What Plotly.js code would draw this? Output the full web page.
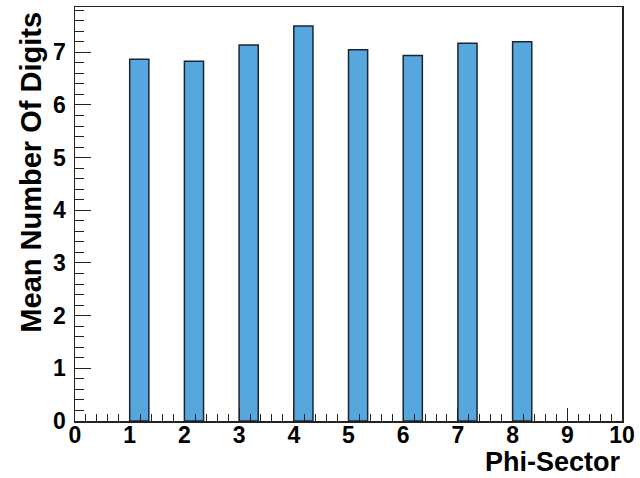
<!DOCTYPE html>
<html>
<head>
<meta charset="utf-8">
<script src="https://cdn.plot.ly/plotly-3.0.1.min.js"></script>
<style>html,body{margin:0;padding:0;background:#fff;}#chart{width:640px;height:478px;}</style>
</head>
<body>
<div id="chart"></div>
<script>
const sectors = [1, 2, 3, 4, 5, 6, 7, 8];
const meanDigits = [6.87, 6.83, 7.14, 7.50, 7.05, 6.94, 7.17, 7.20];
const xTickVals = [0, 1, 2, 3, 4, 5, 6, 7, 8, 9, 10];
const yTickVals = [0, 1, 2, 3, 4, 5, 6, 7];
const xTitle = "Phi-Sector";
const yTitle = "Mean Number Of Digits";

const fontFam = "Liberation Sans, Arial, Helvetica, sans-serif";

const trace = {
  type: "bar",
  x: sectors,
  y: meanDigits,
  width: 0.35,
  offset: 0,
  marker: {color: "#55a7dd", line: {color: "#1c2633", width: 1.5}},
  hoverinfo: "x+y"
};

const layout = {
  width: 640, height: 478,
  margin: {l: 75, r: 18, t: 7, b: 57},
  paper_bgcolor: "#fff", plot_bgcolor: "#fff",
  showlegend: false,
  bargap: 0,
  xaxis: {
    range: [0, 10], tickvals: xTickVals, ticktext: xTickVals.map(String),
    ticks: "inside", ticklen: 13, tickwidth: 1, tickcolor: "#222",
    minor: {ticks: "inside", dtick: 0.2, ticklen: 7, tickwidth: 1, tickcolor: "#222"},
    showgrid: false, zeroline: false,
    showline: true, linecolor: "#222", linewidth: 1.5, mirror: true,
    ticklabelstandoff: -7,
    tickfont: {family: fontFam, size: 23, color: "#000", weight: "bold"}
  },
  yaxis: {
    range: [0, 7.86], tickvals: yTickVals, ticktext: yTickVals.map(String),
    ticks: "inside", ticklen: 16, tickwidth: 1, tickcolor: "#222",
    minor: {ticks: "inside", dtick: 0.2, ticklen: 9, tickwidth: 1, tickcolor: "#222"},
    showgrid: false, zeroline: false,
    showline: true, linecolor: "#222", linewidth: 1.5, mirror: true,
    ticklabelstandoff: 3,
    tickfont: {family: fontFam, size: 23, color: "#000", weight: "bold"}
  },
  annotations: [
    {text: xTitle, xref: "paper", yref: "paper", x: 1, y: -0.1375,
     xanchor: "right", yanchor: "bottom", showarrow: false, borderpad: 0,
     font: {family: fontFam, size: 27, color: "#000", weight: "bold"}},
    {text: yTitle, xref: "paper", yref: "paper", x: -0.080, y: 0.993,
     xanchor: "center", yanchor: "top", textangle: -90, showarrow: false,
     font: {family: fontFam, size: 29, color: "#000", weight: "bold"}}
  ]
};

Plotly.newPlot("chart", [trace], layout, {displayModeBar: false, staticPlot: true});
</script>
</body>
</html>
